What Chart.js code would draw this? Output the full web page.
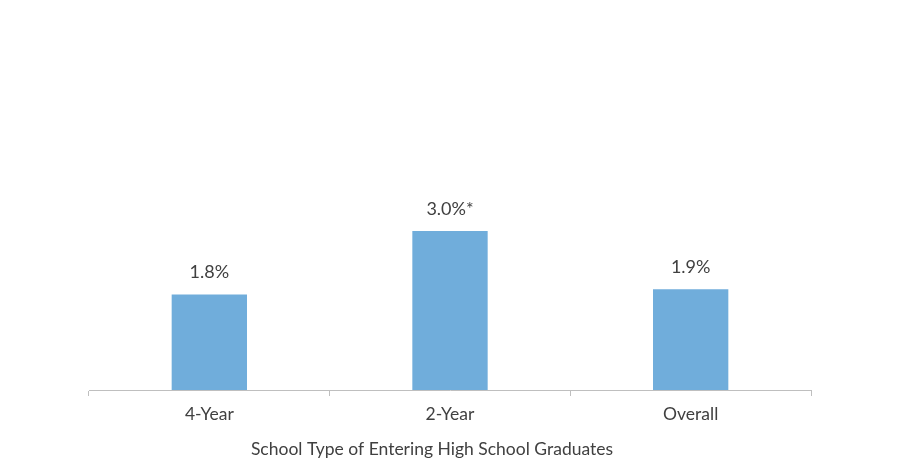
<!DOCTYPE html>
<html>
<head>
<meta charset="utf-8">
<script src="https://cdn.jsdelivr.net/npm/chart.js@4"></script>
<style>
  html, body { margin: 0; padding: 0; background: #ffffff; }
  .chart-container { width: 900px; height: 475px; position: relative; }
</style>
</head>
<body>
<div class="chart-container"><canvas id="rateChart"></canvas></div>
<script>
// Categories and values
const categories = ['4-Year', '2-Year', 'Overall'];
const rates = [1.8, 3.0, 1.9];
const valueLabels = ['1.8%', '3.0%*', '1.9%'];
const axisTitle = 'School Type of Entering High School Graduates';

const fontFamily = 'Lato, "Open Sans", sans-serif';

// Draw the value text above each bar, and the axis title under the labels
const barLabels = {
    id: 'barLabels',
    afterDatasetsDraw(chart) {
        const ctx = chart.ctx;
        const meta = chart.getDatasetMeta(0);
        ctx.save();
        ctx.font = '18px ' + fontFamily;
        ctx.fillStyle = '#404040';
        ctx.textAlign = 'center';
        ctx.textBaseline = 'middle';
        meta.data.forEach((bar, i) => {
            ctx.fillText(valueLabels[i], bar.x, bar.y - 22);
        });
        // axis title sits a little left of the plot centre in the original
        const x = chart.scales.x;
        ctx.font = '17.5px ' + fontFamily;
        ctx.fillText(axisTitle, (x.left + x.right) / 2 - 18, x.top + 59);
        ctx.restore();
    }
};

const ctx = document.getElementById('rateChart').getContext('2d');
new Chart(ctx, {
    type: 'bar',
    data: {
        labels: categories,
        datasets: [{
            data: rates,
            backgroundColor: '#70addb',
            borderWidth: 0,
            categoryPercentage: 1,
            barPercentage: 0.313
        }]
    },
    options: {
        responsive: true,
        maintainAspectRatio: false,
        animation: false,
        layout: {
            padding: { left: 89, right: 89, top: 72, bottom: 42 }
        },
        plugins: {
            legend: { display: false },
            tooltip: { enabled: false }
        },
        scales: {
            x: {
                border: { color: '#bfbfbf', width: 1 },
                grid: {
                    offset: true,
                    drawOnChartArea: false,
                    drawTicks: true,
                    tickLength: 6,
                    color: '#bfbfbf'
                },
                ticks: {
                    color: '#404040',
                    font: { family: fontFamily, size: 17.5 },
                    padding: 8
                }
            },
            y: {
                display: false,
                min: 0,
                max: 6
            }
        }
    },
    plugins: [barLabels]
});
</script>
</body>
</html>
